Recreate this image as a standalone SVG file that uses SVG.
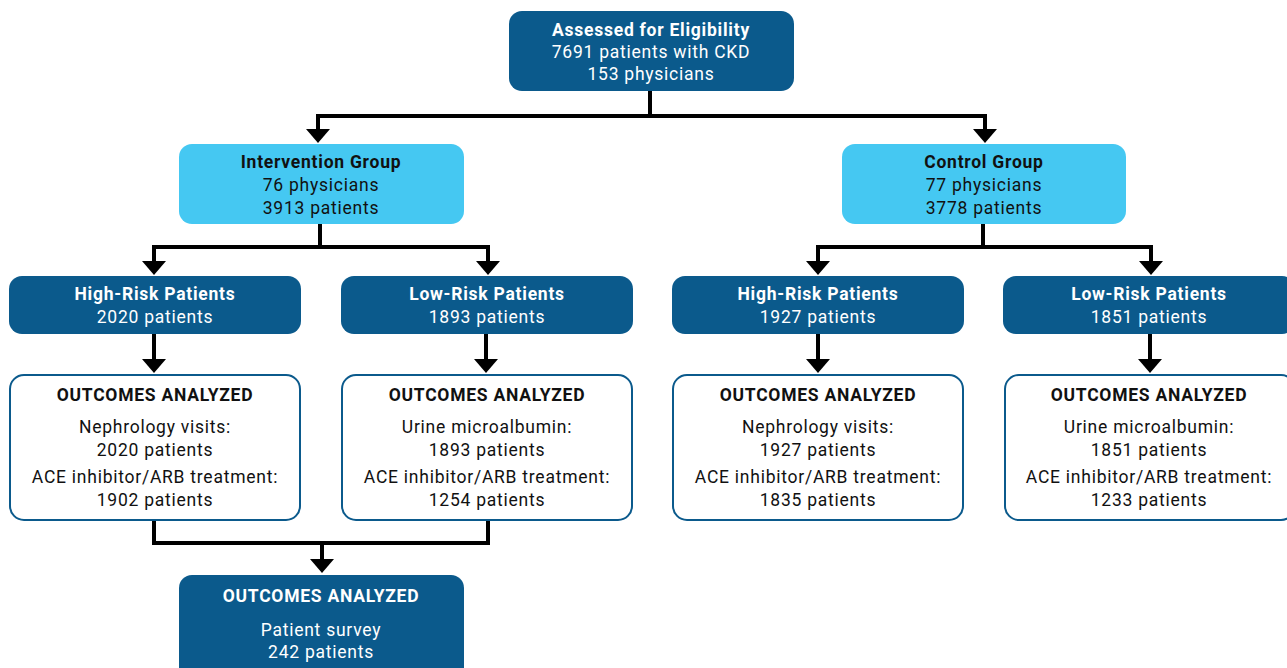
<svg xmlns="http://www.w3.org/2000/svg" width="1287" height="668" viewBox="0 0 1287 668">
<defs>
<style>
text{font-family:Roboto,"Liberation Sans",sans-serif;font-size:17.5px;letter-spacing:0.75px;text-anchor:middle}
.b{font-weight:bold}
.dark{fill:#0b5a8c}
.light{fill:#45c8f2}
.out{fill:#fff;stroke:#0b5a8c;stroke-width:2}
.w{fill:#fff}
.k{fill:#111}
.c{fill:none;stroke:#000;stroke-width:4}
.a{fill:#000}
</style>
</defs>
<g id="connectors">
<path class="c" d="M650,91 V116 M318,116 H985"/>
<path class="c" d="M318,114 V130"/>
<polygon class="a" points="306,129 330,129 318,143"/>
<path class="c" d="M985,114 V130"/>
<polygon class="a" points="973,129 997,129 985,143"/>
<path class="c" d="M320,224 V247 M152,247 H490 M154,245 V262 M488,245 V262"/>
<polygon class="a" points="142,261 166,261 154,275"/>
<polygon class="a" points="476,261 500,261 488,275"/>
<path class="c" d="M983,224 V247 M816,247 H1153 M818,245 V262 M1151,245 V262"/>
<polygon class="a" points="806,261 830,261 818,275"/>
<polygon class="a" points="1139,261 1163,261 1151,275"/>
<path class="c" d="M154,334 V360 M486,334 V360 M818,334 V360 M1150,334 V360"/>
<polygon class="a" points="142,359 166,359 154,373"/>
<polygon class="a" points="474,359 498,359 486,373"/>
<polygon class="a" points="806,359 830,359 818,373"/>
<polygon class="a" points="1138,359 1162,359 1150,373"/>
<path class="c" d="M154,520 V543 H488 V520 M322,541 V560"/>
<polygon class="a" points="310,559 334,559 322,573"/>
</g>
<g id="assessed">
<rect class="dark" x="509" y="11" width="285" height="80" rx="13"/>
<text class="w b" x="651" y="36">Assessed for Eligibility</text>
<text class="w" x="651" y="58">7691 patients with CKD</text>
<text class="w" x="651" y="80">153 physicians</text>
</g>
<g id="intervention">
<rect class="light" x="179" y="144" width="285" height="80" rx="13"/>
<text class="k b" x="321" y="168">Intervention Group</text>
<text class="k" x="321" y="191">76 physicians</text>
<text class="k" x="321" y="214">3913 patients</text>
</g>
<g id="control">
<rect class="light" x="842" y="144" width="284" height="80" rx="13"/>
<text class="k b" x="984" y="168">Control Group</text>
<text class="k" x="984" y="191">77 physicians</text>
<text class="k" x="984" y="214">3778 patients</text>
</g>
<g id="hr1">
<rect class="dark" x="9" y="276" width="292" height="58" rx="13"/>
<text class="w b" x="155" y="300">High-Risk Patients</text>
<text class="w" x="155" y="323">2020 patients</text>
</g>
<g id="lr1">
<rect class="dark" x="341" y="276" width="292" height="58" rx="13"/>
<text class="w b" x="487" y="300">Low-Risk Patients</text>
<text class="w" x="487" y="323">1893 patients</text>
</g>
<g id="hr2">
<rect class="dark" x="672" y="276" width="292" height="58" rx="13"/>
<text class="w b" x="818" y="300">High-Risk Patients</text>
<text class="w" x="818" y="323">1927 patients</text>
</g>
<g id="lr2">
<rect class="dark" x="1003" y="276" width="292" height="58" rx="13"/>
<text class="w b" x="1149" y="300">Low-Risk Patients</text>
<text class="w" x="1149" y="323">1851 patients</text>
</g>
<g id="out1">
<rect class="out" x="10" y="375" width="290" height="145" rx="14"/>
<text class="k b" x="155" y="401">OUTCOMES ANALYZED</text>
<text class="k" x="155" y="433">Nephrology visits:</text>
<text class="k" x="155" y="456">2020 patients</text>
<text class="k" x="155" y="483">ACE inhibitor/ARB treatment:</text>
<text class="k" x="155" y="506">1902 patients</text>
</g>
<g id="out2">
<rect class="out" x="342" y="375" width="290" height="145" rx="14"/>
<text class="k b" x="487" y="401">OUTCOMES ANALYZED</text>
<text class="k" x="487" y="433">Urine microalbumin:</text>
<text class="k" x="487" y="456">1893 patients</text>
<text class="k" x="487" y="483">ACE inhibitor/ARB treatment:</text>
<text class="k" x="487" y="506">1254 patients</text>
</g>
<g id="out3">
<rect class="out" x="673" y="375" width="290" height="145" rx="14"/>
<text class="k b" x="818" y="401">OUTCOMES ANALYZED</text>
<text class="k" x="818" y="433">Nephrology visits:</text>
<text class="k" x="818" y="456">1927 patients</text>
<text class="k" x="818" y="483">ACE inhibitor/ARB treatment:</text>
<text class="k" x="818" y="506">1835 patients</text>
</g>
<g id="out4">
<rect class="out" x="1005" y="375" width="290" height="145" rx="14"/>
<text class="k b" x="1149" y="401">OUTCOMES ANALYZED</text>
<text class="k" x="1149" y="433">Urine microalbumin:</text>
<text class="k" x="1149" y="456">1851 patients</text>
<text class="k" x="1149" y="483">ACE inhibitor/ARB treatment:</text>
<text class="k" x="1149" y="506">1233 patients</text>
</g>
<g id="survey">
<rect class="dark" x="179" y="575" width="285" height="110" rx="13"/>
<text class="w b" x="321" y="602">OUTCOMES ANALYZED</text>
<text class="w" x="321" y="636">Patient survey</text>
<text class="w" x="321" y="658">242 patients</text>
</g>
</svg>
